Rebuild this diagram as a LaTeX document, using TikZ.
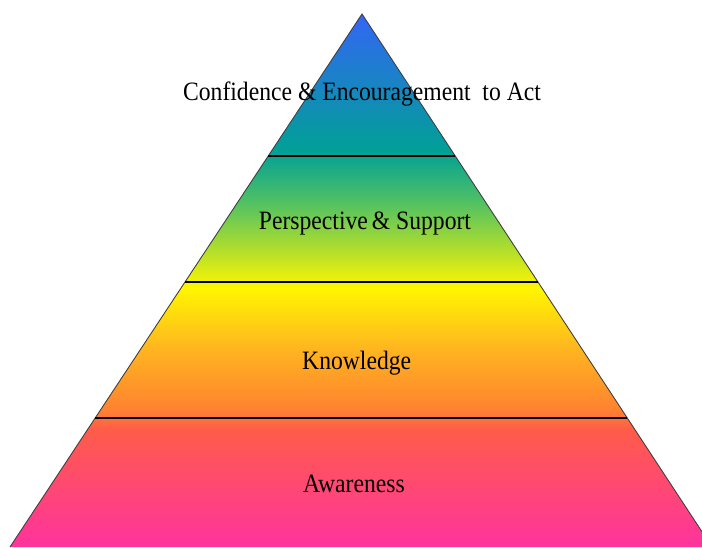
\documentclass[tikz,border=0pt]{standalone}
\usepackage{fontspec}
\setmainfont{Liberation Serif}
\definecolor{cpink}{HTML}{FF339E}
\definecolor{cred}{HTML}{FF5C4A}
\definecolor{corange}{HTML}{FF8230}
\definecolor{camber}{HTML}{FFB420}
\definecolor{cyellow}{HTML}{FFF600}
\definecolor{cgreen}{HTML}{4EC064}
\definecolor{cteal}{HTML}{00A096}
\definecolor{cblue}{HTML}{3366F5}
\pgfdeclareverticalshading{pyr}{100bp}{color(0bp)=(cpink); color(25bp)=(cpink); color(36bp)=(cred); color(37.9bp)=(corange); color(43.5bp)=(camber); color(49.3bp)=(cyellow); color(57.5bp)=(cgreen); color(62.2bp)=(cteal); color(75bp)=(cblue); color(100bp)=(cblue)}
\tikzset{
  layerline/.style={black, line width=1.1pt},
  edge/.style={draw=black!75, line width=0.9pt},
  label/.style={font=\fontsize{26.5}{30}\selectfont, text=black, inner sep=0pt, anchor=base, xscale=0.892}
}
\begin{document}
\begin{tikzpicture}[x=1pt,y=1pt]
\useasboundingbox (0,0) rectangle (702,547);
\begin{scope}
\clip (0,0) rectangle (702,547);
\coordinate (apex) at (362,533);
\coordinate (bl) at (10,0);
\coordinate (br) at (712,0);
\shade[shading=pyr] (apex) -- (bl) -- (br) -- cycle;
\draw[edge] (bl) -- (apex) -- (br);
\coordinate (l1) at (268,391); \coordinate (r1) at (455,391);
\coordinate (l2) at (185,265); \coordinate (r2) at (538,265);
\coordinate (l3) at (95,129);  \coordinate (r3) at (627,129);
\draw[layerline] (l1) -- (r1);
\draw[layerline] (l2) -- (r2);
\draw[layerline] (l3) -- (r3);
\end{scope}
\node[label] (t1) at (362,446.5) {Confidence \& Encouragement\ \ to Act};
\node[label] (t2) at (365,317.5) {Perspective\,\& Support};
\node[label] (t3) at (356.7,177) {Knowledge};
\node[label] (t4) at (354,54.5) {Awareness};
\end{tikzpicture}
\end{document}
